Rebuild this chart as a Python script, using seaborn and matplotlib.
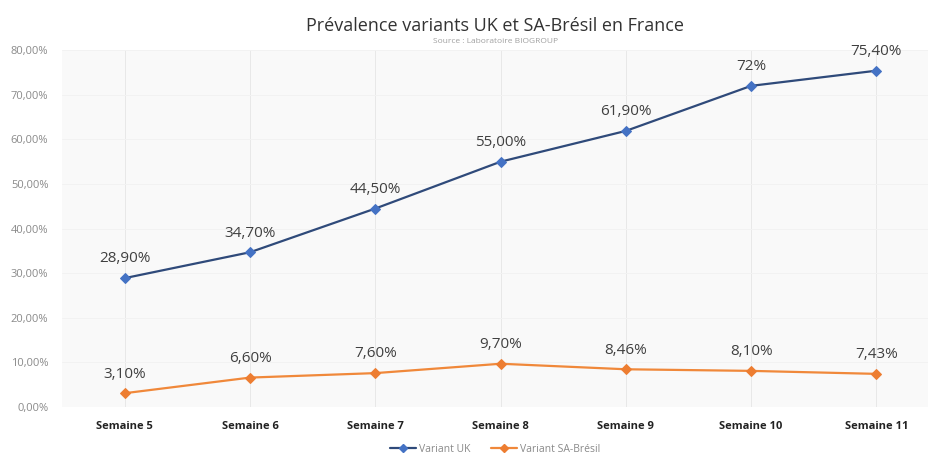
import matplotlib
matplotlib.use("Agg")
import matplotlib.pyplot as plt
import seaborn as sns
import pandas as pd
from matplotlib.lines import Line2D

weeks = ["Semaine 5", "Semaine 6", "Semaine 7", "Semaine 8", "Semaine 9", "Semaine 10", "Semaine 11"]
uk = [28.9, 34.7, 44.5, 55.0, 61.9, 72.0, 75.4]
sa = [3.1, 6.6, 7.6, 9.7, 8.46, 8.1, 7.43]
uk_labels = ["28,90%", "34,70%", "44,50%", "55,00%", "61,90%", "72%", "75,40%"]
sa_labels = ["3,10%", "6,60%", "7,60%", "9,70%", "8,46%", "8,10%", "7,43%"]
yticks = [0, 10, 20, 30, 40, 50, 60, 70, 80]

sns.set_theme(style="white")
plt.rcParams['font.family'] = ['Open Sans', 'DejaVu Sans']

df = pd.DataFrame({
    "x": list(range(len(weeks))) * 2,
    "val": uk + sa,
    "serie": ["Variant UK"] * len(weeks) + ["Variant SA-Brésil"] * len(weeks),
})

fig = plt.figure(figsize=(9.29, 4.54), dpi=100)
ax = fig.add_axes([0.067, 0.1035, 0.933, 0.786])
ax.set_facecolor("#f9f9f9")

for i in range(len(weeks)):
    ax.axvline(i, color="#e8e8e8", lw=0.7, zorder=0)
for t in yticks:
    ax.axhline(t, color="#f2f2f2", lw=0.7, zorder=0)

sns.lineplot(data=df, x="x", y="val", hue="serie",
             palette={"Variant UK": "#2f4a7a", "Variant SA-Brésil": "#f0883a"},
             marker="D", markersize=5, linewidth=1.6, ax=ax, legend=False)
for line, mc in zip(ax.lines[-2:], ["#4472c4", "#ed7d31"]):
    line.set_markerfacecolor(mc)
    line.set_markeredgecolor(mc)

for i, (v, lab) in enumerate(zip(uk, uk_labels)):
    ax.text(i, v + 4.3, lab, ha="center", va="center", fontsize=11, color="#404040")
for i, (v, lab) in enumerate(zip(sa, sa_labels)):
    ax.text(i, v + 4.3, lab, ha="center", va="center", fontsize=11, color="#404040")

ax.set_xlim(-0.5, 6.42)
ax.set_ylim(0, 80)
ax.set_xticks(range(len(weeks)))
ax.set_xticklabels(weeks, fontsize=8, fontweight="bold", color="#222222")
ax.set_yticks(yticks)
ax.set_yticklabels([f"{t},00%" for t in yticks], fontsize=8, color="#8a8a8a")
ax.tick_params(axis="x", length=0, pad=10)
ax.tick_params(axis="y", length=0, pad=10)
ax.set_xlabel("")
ax.set_ylabel("")
for s in ["top", "right", "left", "bottom"]:
    ax.spines[s].set_visible(False)

fig.text(0.533, 0.943, "Prévalence variants UK et SA-Brésil en France", ha="center", va="center",
         fontsize=13, color="#333333")
fig.text(0.533, 0.908, "Source : Laboratoire BIOGROUP", ha="center", va="center",
         fontsize=6, color="#a0a0a0")

handles = [Line2D([0], [0], color="#2f4a7a", marker="D", markersize=4, markerfacecolor="#4472c4",
                  markeredgecolor="#4472c4", lw=1.6),
           Line2D([0], [0], color="#f0883a", marker="D", markersize=4, markerfacecolor="#ed7d31",
                  markeredgecolor="#ed7d31", lw=1.6)]
fig.legend(handles, ["Variant UK", "Variant SA-Brésil"], loc="center", bbox_to_anchor=(0.533, 0.01),
           ncol=2, frameon=False, fontsize=7.5, labelcolor="#8a8a8a", handlelength=2.5,
           columnspacing=2, handletextpad=0.3)

fig.savefig("out.png", dpi=100)
